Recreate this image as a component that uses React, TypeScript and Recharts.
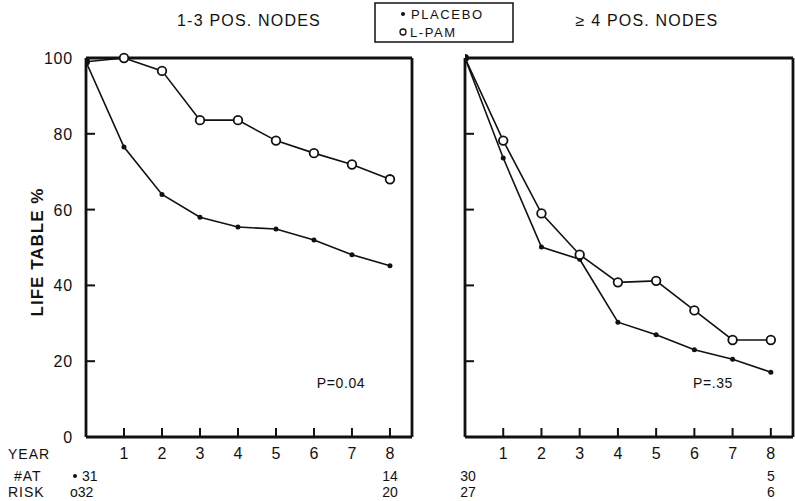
import React from 'react';
import { LineChart, Line, XAxis, YAxis } from 'recharts';

// years since surgery
const years = [0, 1, 2, 3, 4, 5, 6, 7, 8];
const yearTicks = [1, 2, 3, 4, 5, 6, 7, 8];
const pctTicks = [0, 20, 40, 60, 80, 100];

// 1-3 positive nodes
const placeboFew = [99, 76.5, 64, 58, 55.4, 54.9, 52, 48.1, 45.2];
const lpamFew = [99, 100, 96.6, 83.6, 83.6, 78.2, 74.9, 71.9, 68];

// >= 4 positive nodes
const placeboMany = [100, 73.6, 50.1, 46.9, 30.3, 27, 23, 20.5, 17.1];
const lpamMany = [100, 78.2, 59, 48.1, 40.8, 41.2, 33.4, 25.6, 25.6];

const FONT = '"Liberation Sans", Arial, sans-serif';
const INK = '#111';
const X_DOMAIN: [number, number] = [0, 8.58];

const YearTick = (props: any) => {
  const { x, y, payload } = props;
  return (
    <g>
      <line x1={x} x2={x} y1={y - 9} y2={y} stroke={INK} strokeWidth={2} />
      <text x={x} y={y + 22} textAnchor="middle" fontSize={16} fill={INK} fontFamily={FONT}>
        {payload.value}
      </text>
    </g>
  );
};

const LeftTickLabeled = (props: any) => {
  const { x, y, payload } = props;
  return (
    <g>
      <line x1={x} x2={x + 9} y1={y} y2={y} stroke={INK} strokeWidth={2} />
      <text x={x - 13} y={y + 6} textAnchor="end" fontSize={16} letterSpacing={0.8} fill={INK} fontFamily={FONT}>
        {payload.value}
      </text>
    </g>
  );
};

const LeftTickPlain = (props: any) => {
  const { x, y } = props;
  return <line x1={x} x2={x + 9} y1={y} y2={y} stroke={INK} strokeWidth={2} />;
};

const RightTick = (props: any) => {
  const { x, y } = props;
  return <line x1={x - 9} x2={x} y1={y} y2={y} stroke={INK} strokeWidth={2} />;
};

const PlaceboDot = (props: any) => {
  const { cx, cy, index } = props;
  return <circle key={index} cx={cx} cy={cy} r={index === 0 ? 4 : 2.5} fill={INK} stroke="none" />;
};

const LpamDot = (props: any) => {
  const { cx, cy, index } = props;
  if (index === 0) return <g key={index} />;
  return <circle key={index} cx={cx} cy={cy} r={4.3} fill="#fff" stroke={INK} strokeWidth={1.8} />;
};

interface PanelProps {
  placebo: number[];
  lpam: number[];
  labeled: boolean;
  width: number;
  leftAxisW: number;
  rightAxisW: number;
  margin: { top: number; right: number; bottom: number; left: number };
}

function Panel({ placebo, lpam, labeled, width, leftAxisW, rightAxisW, margin }: PanelProps) {
  const data = years.map((year, i) => ({ year, placebo: placebo[i], lpam: lpam[i] }));
  return (
    <LineChart width={width} height={470} data={data} margin={margin}>
      <XAxis
        dataKey="year"
        type="number"
        domain={X_DOMAIN}
        allowDataOverflow
        ticks={yearTicks}
        interval={0}
        height={20}
        tickSize={0}
        tickMargin={0}
        tickLine={false}
        tick={<YearTick />}
        axisLine={{ stroke: INK, strokeWidth: 2.8 }}
      />
      <XAxis
        xAxisId="top"
        orientation="top"
        type="number"
        domain={X_DOMAIN}
        allowDataOverflow
        height={10}
        tick={false}
        tickLine={false}
        axisLine={{ stroke: INK, strokeWidth: 2.8 }}
      />
      <YAxis
        type="number"
        domain={[0, 100]}
        ticks={pctTicks}
        interval={0}
        width={leftAxisW}
        tickSize={0}
        tickMargin={0}
        tickLine={false}
        tick={labeled ? <LeftTickLabeled /> : <LeftTickPlain />}
        axisLine={{ stroke: INK, strokeWidth: 2.8 }}
      />
      <YAxis
        yAxisId="right"
        orientation="right"
        type="number"
        domain={[0, 100]}
        ticks={pctTicks}
        interval={0}
        width={rightAxisW}
        tickSize={0}
        tickMargin={0}
        tickLine={false}
        tick={<RightTick />}
        axisLine={{ stroke: INK, strokeWidth: 2.8 }}
      />
      <Line
        dataKey="placebo"
        stroke={INK}
        strokeWidth={1.6}
        dot={<PlaceboDot />}
        isAnimationActive={false}
      />
      <Line
        dataKey="lpam"
        stroke={INK}
        strokeWidth={1.6}
        dot={<LpamDot />}
        isAnimationActive={false}
      />
    </LineChart>
  );
}

export default function App() {
  const txt = { fontFamily: FONT, fill: INK };
  return (
    <div style={{ position: 'absolute', left: 0, top: 0, width: 795, height: 501, background: '#fff', overflow: 'hidden' }}>
      <div style={{ position: 'absolute', left: 0, top: 0 }}>
        <Panel
          placebo={placeboFew}
          lpam={lpamFew}
          labeled
          width={420}
          leftAxisW={30}
          rightAxisW={5}
          margin={{ top: 48, left: 56, right: 3, bottom: 13 }}
        />
      </div>
      <div style={{ position: 'absolute', left: 440, top: 0 }}>
        <Panel
          placebo={placeboMany}
          lpam={lpamMany}
          labeled={false}
          width={355}
          leftAxisW={20}
          rightAxisW={2}
          margin={{ top: 48, left: 5, right: 0, bottom: 13 }}
        />
      </div>
      <svg width={795} height={501} style={{ position: 'absolute', left: 0, top: 0, pointerEvents: 'none' }}>
        <text {...txt} x={249} y={26} fontSize={16} letterSpacing={1.2} textAnchor="middle">1-3  POS. NODES</text>
        <text {...txt} x={647} y={26} fontSize={16} letterSpacing={1.2} textAnchor="middle">≥ 4  POS. NODES</text>

        <rect x={375} y={3} width={138} height={39} fill="#fff" stroke={INK} strokeWidth={1.5} />
        <circle cx={403} cy={14} r={2} fill={INK} />
        <text {...txt} x={411} y={19} fontSize={13} letterSpacing={1.6}>PLACEBO</text>
        <circle cx={403} cy={32} r={3} fill="none" stroke={INK} strokeWidth={1.3} />
        <text {...txt} x={410} y={37} fontSize={13} letterSpacing={1.6}>L-PAM</text>

        <text
          {...txt}
          x={0}
          y={0}
          fontSize={17}
          letterSpacing={1}
          fontWeight={600}
          textAnchor="middle"
          transform="translate(43 252) rotate(-90)"
        >
          LIFE TABLE %
        </text>

        <text {...txt} x={341} y={388} fontSize={14} letterSpacing={0.6} textAnchor="middle">P=0.04</text>
        <text {...txt} x={713} y={388} fontSize={14} letterSpacing={0.6} textAnchor="middle">P=.35</text>

        <text {...txt} x={8} y={459} fontSize={14} letterSpacing={1}>YEAR</text>
        <text {...txt} x={14} y={481} fontSize={14} letterSpacing={1}>#AT</text>
        <text {...txt} x={8} y={497} fontSize={14} letterSpacing={1}>RISK</text>

        <circle cx={75} cy={476} r={2} fill={INK} />
        <text {...txt} x={82} y={481} fontSize={14}>31</text>
        <text {...txt} x={70} y={497} fontSize={14}>o32</text>
        <text {...txt} x={390} y={481} fontSize={14} textAnchor="middle">14</text>
        <text {...txt} x={390} y={497} fontSize={14} textAnchor="middle">20</text>

        <text {...txt} x={468} y={481} fontSize={14} textAnchor="middle">30</text>
        <text {...txt} x={468} y={497} fontSize={14} textAnchor="middle">27</text>
        <text {...txt} x={771} y={481} fontSize={14} textAnchor="middle">5</text>
        <text {...txt} x={771} y={497} fontSize={14} textAnchor="middle">6</text>
      </svg>
    </div>
  );
}
